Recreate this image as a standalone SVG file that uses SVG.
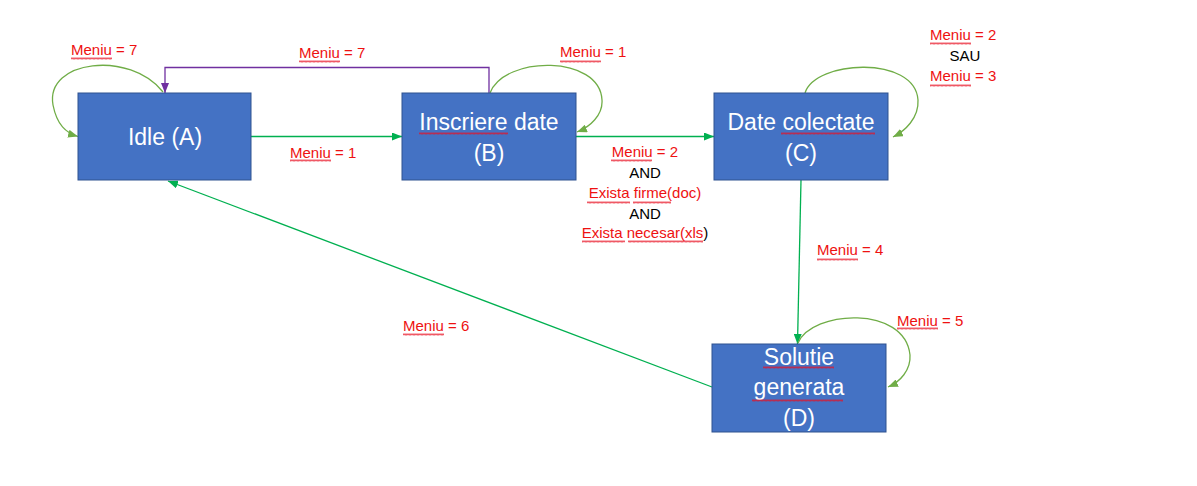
<svg xmlns="http://www.w3.org/2000/svg" width="1197" height="486" viewBox="0 0 1197 486">
<style>
.node{fill:#4472C4;stroke:#2F528F;stroke-width:1}
.nt{font-family:"Liberation Sans",Arial,sans-serif;font-size:23px;fill:#FFFFFF;text-anchor:middle}
.lb{font-family:"Liberation Sans",Arial,sans-serif;font-size:15px;fill:#EE1111}
.bk{fill:#000000}
.g{fill:none;stroke:#00B050;stroke-width:1.3}
.o{fill:none;stroke:#70AD47;stroke-width:1.3}
.p{fill:none;stroke:#7030A0;stroke-width:1.3}
.sq{fill:url(#sqp)}
</style>
<defs>
<pattern id="sqp" patternUnits="userSpaceOnUse" width="4" height="3">
<path d="M0,2.5 L1,0.5 L2,2.5 L3,0.5 L4,2.5" fill="none" stroke="#E81123" stroke-width="0.7"/>
</pattern>
<marker id="ag" markerWidth="10" markerHeight="8" refX="10" refY="4" orient="auto" markerUnits="userSpaceOnUse"><path d="M0,0 L10,4 L0,8 Z" fill="#00B050"/></marker>
<marker id="ao" markerWidth="10" markerHeight="8" refX="10" refY="4" orient="auto" markerUnits="userSpaceOnUse"><path d="M0,0 L10,4 L0,8 Z" fill="#70AD47"/></marker>
<marker id="ap" markerWidth="10" markerHeight="8" refX="10" refY="4" orient="auto" markerUnits="userSpaceOnUse"><path d="M0,0 L10,4 L0,8 Z" fill="#7030A0"/></marker>
</defs>
<rect width="1197" height="486" fill="#FFFFFF"/>
<g id="connectors">
<line class="g" x1="251" y1="136.5" x2="402" y2="136.5" marker-end="url(#ag)"/>
<line class="g" x1="576" y1="136.5" x2="714" y2="136.5" marker-end="url(#ag)"/>
<line class="g" x1="801" y1="180" x2="797.5" y2="344" marker-end="url(#ag)"/>
<line class="g" x1="712" y1="387" x2="168" y2="181" marker-end="url(#ag)"/>
<path class="p" d="M489,93 L489,67.5 L165,67.5 L165,93" marker-end="url(#ap)"/>
<path class="o" d="M163,92 C130,50 45,60 53,105 C57,125 66,133 78,136.5" marker-end="url(#ao)"/>
<path class="o" d="M490,93 C505,55 600,55 602,100 C603,115 590,127 577,132" marker-end="url(#ao)"/>
<path class="o" d="M805,93 C815,60 915,55 918,100 C919,118 905,131 893,137" marker-end="url(#ao)"/>
<path class="o" d="M798,343 C812,310 905,305 910,355 C911,370 900,382 888,387" marker-end="url(#ao)"/>
</g>
<g id="node-A">
<rect class="node" x="78" y="93" width="173" height="87"/>
<text class="nt" x="165" y="145">Idle (A)</text>
</g>
<g id="node-B">
<rect class="node" x="402" y="93" width="174" height="87"/>
<text class="nt" x="489" y="130">Inscriere date</text>
<text class="nt" x="489" y="161">(B)</text>
<rect class="sq" x="419" y="132" width="89" height="3"/>
</g>
<g id="node-C">
<rect class="node" x="714" y="93" width="174" height="87"/>
<text class="nt" x="801" y="130">Date colectate</text>
<text class="nt" x="801" y="161">(C)</text>
<rect class="sq" x="781" y="132" width="94" height="3"/>
</g>
<g id="node-D">
<rect class="node" x="712" y="344" width="174" height="88"/>
<text class="nt" x="799" y="365">Solutie</text>
<text class="nt" x="799" y="395">generata</text>
<text class="nt" x="799" y="426">(D)</text>
<rect class="sq" x="763" y="366" width="71" height="3"/>
<rect class="sq" x="752" y="399" width="91" height="3"/>
</g>
<g id="labels">
<text class="lb" x="71" y="55">Meniu = 7</text>
<rect class="sq" x="71" y="57" width="41" height="3"/>
<text class="lb" x="299" y="58">Meniu = 7</text>
<rect class="sq" x="299" y="60" width="41" height="3"/>
<text class="lb" x="560" y="57">Meniu = 1</text>
<rect class="sq" x="560" y="60" width="41" height="3"/>
<text class="lb" x="290" y="158">Meniu = 1</text>
<rect class="sq" x="290" y="159" width="41" height="3"/>
<text class="lb" x="930" y="40">Meniu = 2</text>
<rect class="sq" x="930" y="42" width="41" height="3"/>
<text class="lb bk" x="965" y="61" text-anchor="middle">SAU</text>
<text class="lb" x="930" y="81">Meniu = 3</text>
<rect class="sq" x="930" y="84" width="41" height="3"/>
<text class="lb" x="645" y="157" text-anchor="middle">Meniu = 2</text>
<rect class="sq" x="611" y="159" width="41" height="3"/>
<text class="lb bk" x="645" y="178" text-anchor="middle">AND</text>
<text class="lb" x="645" y="198" text-anchor="middle">Exista firme(doc)</text>
<rect class="sq" x="587" y="201" width="43" height="3"/>
<rect class="sq" x="633" y="201" width="38" height="3"/>
<text class="lb bk" x="645" y="219" text-anchor="middle">AND</text>
<text class="lb" x="645" y="238" text-anchor="middle">Exista necesar(<tspan>xls</tspan><tspan class="bk">)</tspan></text>
<rect class="sq" x="582" y="240" width="43" height="3"/>
<rect class="sq" x="628" y="240" width="75" height="3"/>
<text class="lb" x="817" y="255">Meniu = 4</text>
<rect class="sq" x="817" y="258" width="41" height="3"/>
<text class="lb" x="897" y="326">Meniu = 5</text>
<rect class="sq" x="897" y="327" width="41" height="3"/>
<text class="lb" x="403" y="331">Meniu = 6</text>
<rect class="sq" x="403" y="333" width="41" height="3"/>
</g>
</svg>
